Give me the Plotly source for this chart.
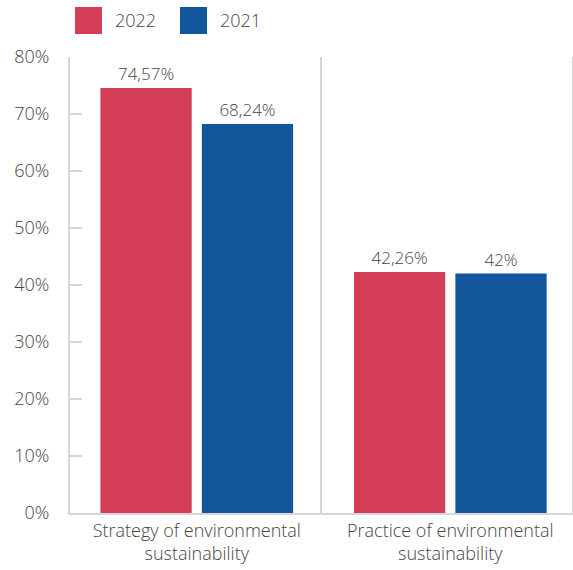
import plotly.graph_objects as go

# Categories and series values (percent)
categories = ["Strategy of environmental<br>sustainability", "Practice of environmental<br>sustainability"]
series_names = ["2022", "2021"]
values_2022 = [74.57, 42.26]
values_2021 = [68.24, 42.0]
y_ticks = [0, 10, 20, 30, 40, 50, 60, 70, 80]

colors = {"2022": "#D43D56", "2021": "#12579B"}
text_color = "#444444"
line_color = "#D6D6D6"
font_family = "'Open Sans', Lato, sans-serif"
font_weight = 300


def fmt(v):
    # decimal comma, no trailing zeros
    return f"{v:g}".replace(".", ",") + "%"


x_pos = list(range(len(categories)))

fig = go.Figure()
for name, vals in zip(series_names, [values_2022, values_2021]):
    fig.add_trace(go.Bar(
        x=x_pos,
        y=vals,
        name=name,
        marker=dict(color=colors[name], line=dict(width=0)),
        text=[fmt(v) for v in vals],
        textposition="outside",
        textfont=dict(size=17, color=text_color, family=font_family, weight=font_weight),
        cliponaxis=False,
        showlegend=False,
    ))

# Legend drawn as coloured squares with labels above the plot
legend_shapes = []
legend_annots = []
offsets = [5, 110]
for off, name in zip(offsets, series_names):
    legend_shapes.append(dict(
        type="rect", xref="paper", yref="paper",
        xsizemode="pixel", ysizemode="pixel",
        xanchor=0, yanchor=1,
        x0=off, x1=off + 27, y0=23, y1=50,
        fillcolor=colors[name], line=dict(width=0),
    ))
    legend_annots.append(dict(
        text=name, xref="paper", yref="paper", x=0, y=1,
        xshift=off + 38, yshift=37, xanchor="left", yanchor="middle",
        showarrow=False,
        font=dict(size=18, color=text_color, family=font_family, weight=font_weight),
    ))

fig.update_layout(
    width=573, height=570,
    margin=dict(l=70, r=1, t=57, b=57),
    paper_bgcolor="white", plot_bgcolor="white",
    barmode="group", bargap=0.2, bargroupgap=0.1,
    font=dict(family=font_family, color=text_color, weight=font_weight),
    shapes=legend_shapes,
    annotations=legend_annots,
    showlegend=False,
)

fig.update_xaxes(
    range=[-0.5, len(categories) - 0.52],
    tickvals=x_pos, ticktext=categories,
    tickfont=dict(size=18, color=text_color, family=font_family, weight=font_weight),
    showgrid=False, zeroline=False,
    showline=True, linecolor=line_color, linewidth=2,
    ticks="", ticklabelstandoff=0, automargin=False,
    minor=dict(tickvals=[0.49], showgrid=True,
               gridcolor=line_color, gridwidth=2, ticks=""),
)

fig.update_yaxes(
    range=[0, 80],
    tickvals=y_ticks, ticktext=[f"{t}%" for t in y_ticks],
    tickfont=dict(size=18, color=text_color, family=font_family, weight=font_weight),
    showgrid=False, zeroline=False,
    showline=True, linecolor=line_color, linewidth=2, mirror=True,
    ticks="inside", ticklen=12, tickwidth=2, tickcolor=line_color,
    ticklabelstandoff=15, automargin=False,
)

fig.write_html("out.html")
